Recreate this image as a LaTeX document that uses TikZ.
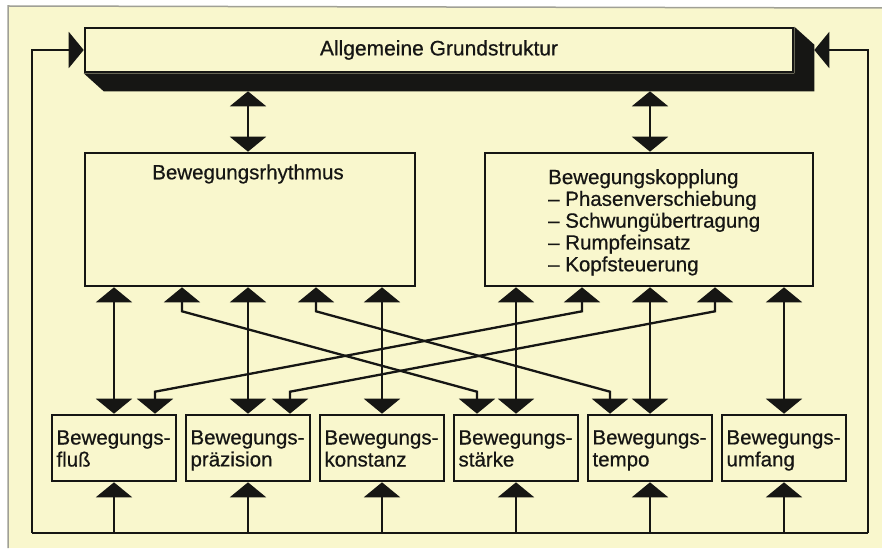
\documentclass[tikz,border=0pt]{standalone}
\usepackage{fontspec}
\setmainfont{Liberation Sans}[FakeBold=0.6]
\usetikzlibrary{arrows.meta,calc}
\definecolor{paper}{RGB}{249,247,205}
\definecolor{ink}{RGB}{22,22,20}
\definecolor{rim}{RGB}{160,160,150}
% two-line label with fixed first and last line metrics
\newcommand{\twoline}[2]{\rule{0pt}{19pt}#1\\#2\rule[-4pt]{0pt}{4pt}}
\begin{document}
\begin{tikzpicture}[x=1pt,y=-1pt,
  box/.style={draw=ink,line width=2.6pt,fill=paper,inner sep=0pt,text=ink},
  small/.style={box,minimum width=124pt,minimum height=66pt,text width=115pt,
    align=left,font=\fontsize{20.5}{22}\selectfont},
  link/.style={draw=ink,line width=2.3pt},
  tip/.style={link,-{Triangle[length=15pt,width=36pt]}},
  dbl/.style={link,{Triangle[length=15pt,width=36pt]}-{Triangle[length=15pt,width=36pt]}},
  lbl/.style={inner sep=0pt,font=\fontsize{20.5}{21.8}\selectfont,text=ink}
]
\useasboundingbox (0,0) rectangle (882,548);
% sheet
\fill[white] (0,0) rectangle (882,548);
\fill[paper] (8,7) rectangle (882,548);
\draw[rim,line width=1.5pt] (8,548) -- (8,6) -- (882,8);

% main boxes
\node[box,minimum width=708pt,minimum height=44pt,font=\fontsize{21}{24}\selectfont]
  (top) at (439,50) {Allgemeine Grundstruktur};
\fill[ink] (top.south west) -- ($(top.south west)+(20,18)$) -- ($(top.south east)+(20,18)$)
  -- ($(top.north east)+(20,18)$) -- (top.north east) -- (top.south east) -- cycle;
\coordinate (shR) at ($(top.east)+(20,0)$);
\coordinate (shB) at ($(top.south)+(0,18)$);

\node[box,minimum width=330pt,minimum height=133pt] (rh) at (250,219.5) {};
\node[lbl] (rhT) at (248,174) {Bewegungsrhythmus};

\node[box,minimum width=328pt,minimum height=133pt] (kp) at (649,219.5) {};
\node[lbl,anchor=north west,align=left] (kpT) at (548,169)
  {Bewegungskopplung\\– Phasenverschiebung\\– Schwungübertragung\\– Rumpfeinsatz\\– Kopfsteuerung};

% component boxes
\node[small] (b1) at (114,448) {\twoline{Bewegungs-}{fluß}};
\node[small] (b2) at (248,448) {\twoline{Bewegungs-}{präzision}};
\node[small] (b3) at (382,448) {\twoline{Bewegungs-}{konstanz}};
\node[small] (b4) at (516,448) {\twoline{Bewegungs-}{stärke}};
\node[small] (b5) at (650,448) {\twoline{Bewegungs-}{tempo}};
\node[small] (b6) at (784,448) {\twoline{Bewegungs-}{umfang}};

% columns of the crossing links
\coordinate (x182) at (182,0);
\coordinate (x316) at (316,0);
\coordinate (x582) at (582,0);
\coordinate (x715) at (715,0);
\coordinate (x155) at (155,0);
\coordinate (x290) at (290,0);
\coordinate (x477) at (477,0);
\coordinate (x610) at (610,0);

% top links
\draw[dbl] (shB -| b2) -- (rh.north -| b2);
\draw[dbl] (shB -| b5) -- (kp.north -| b5);

% straight links
\draw[dbl] (rh.south -| b1) -- (b1.north);
\draw[dbl] (rh.south -| b2) -- (b2.north);
\draw[dbl] (rh.south -| b3) -- (b3.north);
\draw[dbl] (kp.south -| b4) -- (b4.north);
\draw[dbl] (kp.south -| b5) -- (b5.north);
\draw[dbl] (kp.south -| b6) -- (b6.north);

% crossing links
\draw[dbl] (rh.south -| x182) -- ++(0,24) -- ($(b4.north -| x477)+(0,-22)$) -- (b4.north -| x477);
\draw[dbl] (rh.south -| x316) -- ++(0,24) -- ($(b5.north -| x610)+(0,-22)$) -- (b5.north -| x610);
\draw[dbl] (kp.south -| x582) -- ++(0,24) -- ($(b1.north -| x155)+(0,-22)$) -- (b1.north -| x155);
\draw[dbl] (kp.south -| x715) -- ++(0,24) -- ($(b2.north -| x290)+(0,-22)$) -- (b2.north -| x290);

% feedback loop
\coordinate (busL) at (32,533);
\coordinate (busR) at (868,533);
\draw[link] (busL) -- (busR);
\draw[tip] (busL) |- (top.west);
\draw[tip] (busR) |- (shR);
\foreach \b in {b1,b2,b3,b4,b5,b6}
  \draw[tip] (busL -| \b.south) -- (\b.south);
\end{tikzpicture}
\end{document}
